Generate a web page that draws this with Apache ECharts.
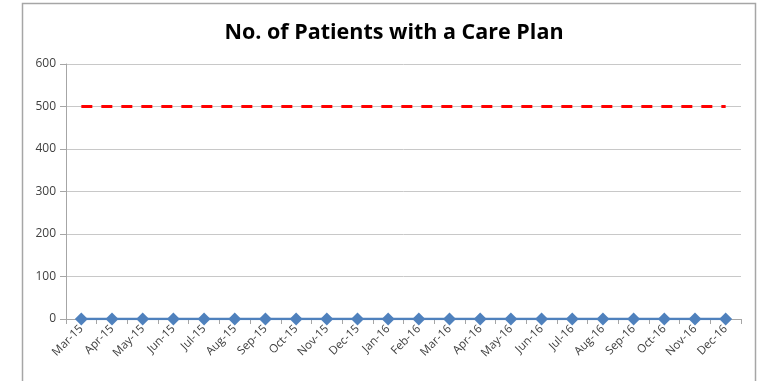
<!DOCTYPE html>
<html><head><meta charset="utf-8">
<script src="https://cdn.jsdelivr.net/npm/echarts@6/dist/echarts.min.js"></script>
<style>html,body{margin:0;padding:0;background:#fff}#c{width:762px;height:381px}</style>
</head><body><div id="c"></div>
<script>
const categories = ['Mar-15','Apr-15','May-15','Jun-15','Jul-15','Aug-15','Sep-15','Oct-15','Nov-15','Dec-15','Jan-16','Feb-16','Mar-16','Apr-16','May-16','Jun-16','Jul-16','Aug-16','Sep-16','Oct-16','Nov-16','Dec-16'];
const patients = [0,0,0,0,0,0,0,0,0,0,0,0,0,0,0,0,0,0,0,0,0,0];
const target = [500,500,500,500,500,500,500,500,500,500,500,500,500,500,500,500,500,500,500,500,500,500];
const yTicks = {min:0, max:600, interval:100};

const chart = echarts.init(document.getElementById('c'));
chart.setOption({
  animation:false,
  backgroundColor:'#fff',
  graphic:[{type:'rect', shape:{x:22.5,y:3.5,width:733,height:390}, style:{fill:'none', stroke:'#a6a6a6', lineWidth:1.5}, silent:true}],
  title:{text:'No. of Patients with a Care Plan', left:389, textAlign:'center', top:17, textStyle:{fontFamily:'Open Sans', fontWeight:'bold', fontSize:21.5, color:'#000'}},
  grid:{left:66, right:21, top:64, bottom:62},
  xAxis:{type:'category', data:categories, boundaryGap:true,
    axisLine:{lineStyle:{color:'#a6a6a6'}},
    axisTick:{show:true, length:5, lineStyle:{color:'#a6a6a6'}},
    axisLabel:{rotate:45, fontSize:11.5, color:'#404040', fontFamily:'Open Sans', margin:8, interval:0}},
  yAxis:{type:'value', min:yTicks.min, max:yTicks.max, interval:yTicks.interval,
    axisLine:{show:true, lineStyle:{color:'#a6a6a6'}},
    axisTick:{show:true, length:6, lineStyle:{color:'#a6a6a6'}},
    splitLine:{lineStyle:{color:'#c8c8c8'}},
    axisLabel:{fontSize:12, color:'#404040', fontFamily:'Open Sans', margin:10}},
  series:[
    {type:'line', data:target, symbol:'none', lineStyle:{color:'#ff0000', width:3, type:[11,9]}},
    {type:'line', data:patients, symbol:'diamond', symbolSize:13, lineStyle:{color:'#4f81bd', width:2.5}, itemStyle:{color:'#4f81bd'}}
  ]
});
</script></body></html>
